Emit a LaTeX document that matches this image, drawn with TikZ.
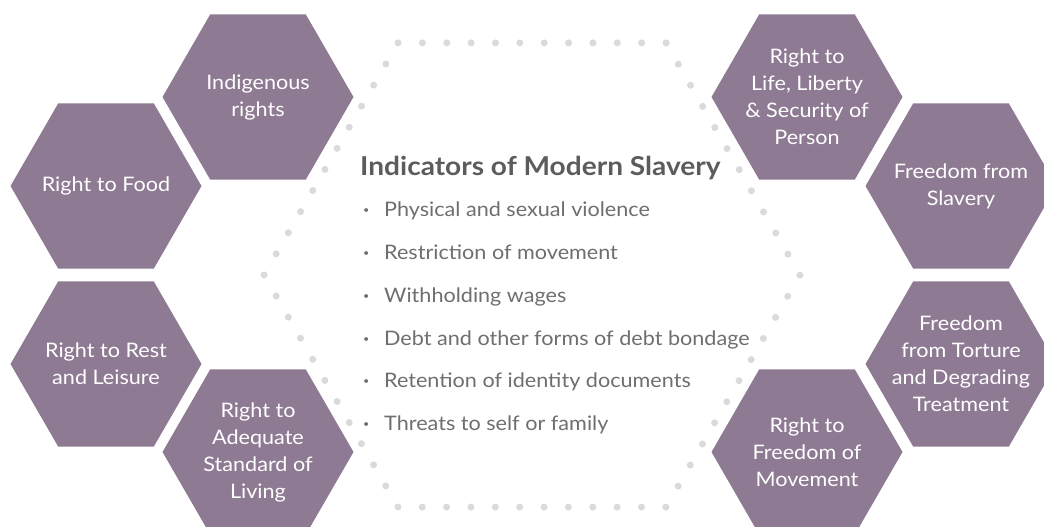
\documentclass[tikz,border=0pt]{standalone}
\usepackage{fontspec}
\setmainfont{Lato}[FakeStretch=1.08]
\usetikzlibrary{shapes.geometric}
\definecolor{hexpurple}{HTML}{8E7A93}
\definecolor{dotgray}{HTML}{DADADA}
\definecolor{titlegray}{HTML}{5C5C5C}
\definecolor{itemgray}{HTML}{6E6E6E}
\newcommand{\bul}{\makebox[21pt][l]{\fontsize{10}{10}\selectfont\raisebox{3pt}{\textbullet}}}
\tikzstyle{hexa} = [regular polygon, regular polygon sides=6, 
minimum size=191pt, 
inner sep=0pt, outer sep=0pt, 
fill=hexpurple]
\tikzstyle{hextext} = [text=white, 
align=center, 
font=\fontsize{20}{27}\selectfont]
\tikzstyle{ring} = [regular polygon, regular polygon sides=6, 
minimum size=536pt, 
inner sep=0pt, outer sep=0pt, 
draw=dotgray, line width=7pt, line cap=round, 
dash pattern=on 0pt off 24.36pt]
\tikzstyle{indicator} = [anchor=base west, inner sep=0pt, 
text=itemgray, 
font=\fontsize{20}{24}\selectfont]

\begin{document}
\begin{tikzpicture}[x=1pt, y=-1pt]
\useasboundingbox (0,0) rectangle (1044,527);

\node (ring) [ring] at (532,275) {};

% left side
\node (indig) [hexa] at (258,97) {};
\node [hextext] at (indig) {Indigenous\\rights};
\node (food) [hexa] at (106,186) {};
\node [hextext] at (food) {Right to Food};
\node (rest) [hexa] at (106,364) {};
\node [hextext] at (rest) {Right to Rest\\and Leisure};
\node (living) [hexa] at (258,452) {};
\node [hextext] at (living) {Right to\\Adequate\\Standard of\\Living};

% right side
\node (life) [hexa] at (807,97) {};
\node [hextext] at (life) {Right to\\Life, Liberty\\\& Security of\\Person};
\node (slavery) [hexa] at (961,186) {};
\node [hextext] at (slavery) {Freedom from\\Slavery};
\node (torture) [hexa] at (961,364) {};
\node [hextext] at (torture) {Freedom\\from Torture\\and Degrading\\Treatment};
\node (movement) [hexa] at (807,452) {};
\node [hextext] at (movement) {Right to\\Freedom of\\Movement};

\node (title) [anchor=base west, inner sep=0pt, text=titlegray, font=\bfseries\fontsize{26}{30}\selectfont] at (360,175) {Indicators of Modern Slavery};

\foreach \txt [count=\i] in {Physical and sexual violence, Restriction of movement, Withholding wages, Debt and other forms of debt bondage, Retention of identity documents, Threats to self or family}
  \node (item\i) [indicator] at (363,{173.9+42.8*\i}) {\bul\txt};

\end{tikzpicture}
\end{document}
